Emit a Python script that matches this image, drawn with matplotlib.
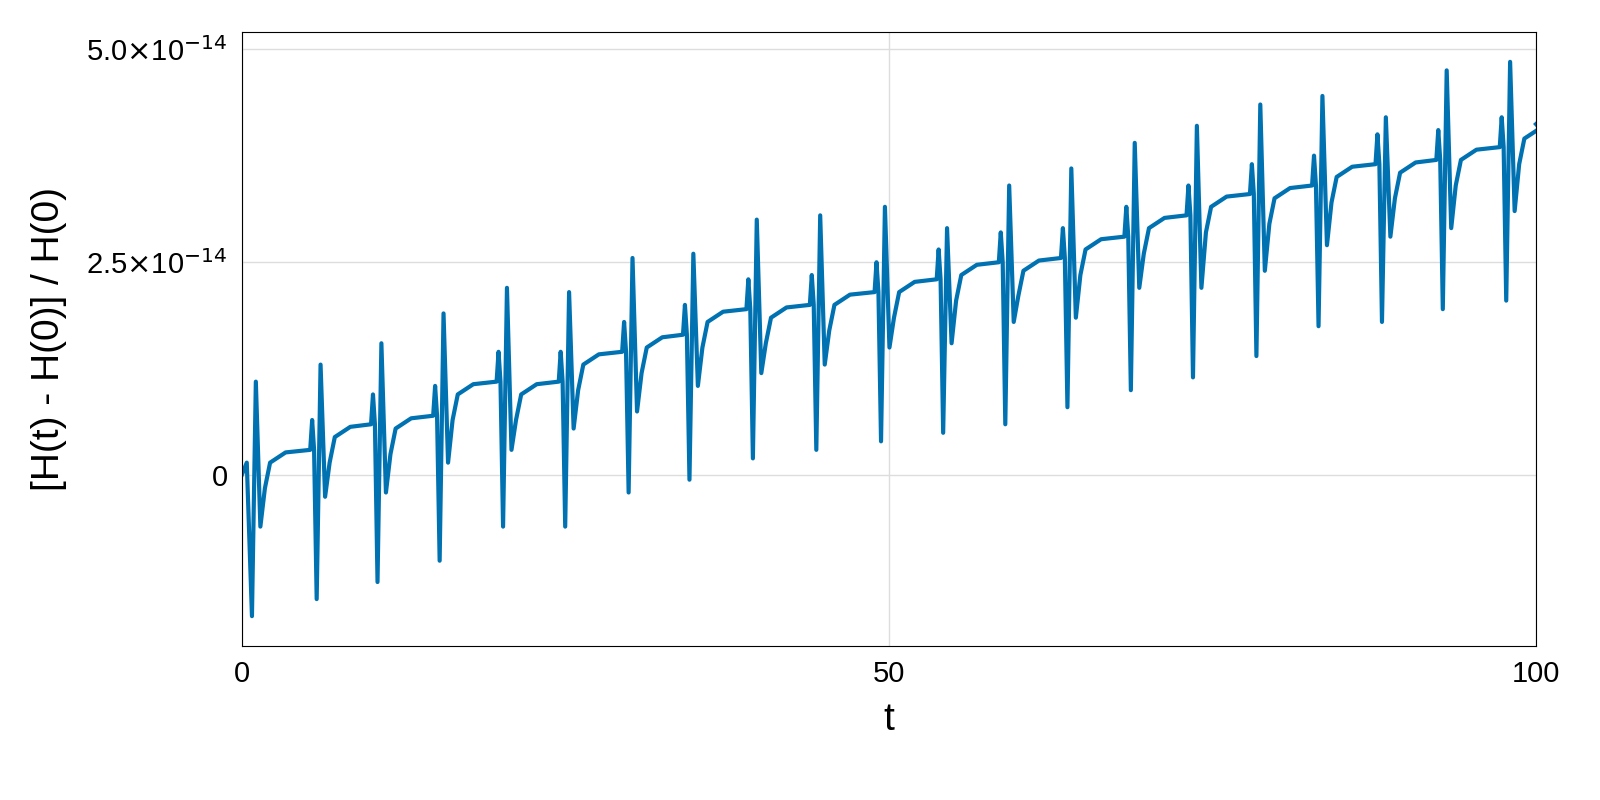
import matplotlib
matplotlib.use("Agg")
import matplotlib.pyplot as plt
import numpy as np

plt.rcParams['font.family'] = ['Liberation Sans', 'DejaVu Sans']

# spike events (values in units of 1e-14)
spike_t = [0.9, 5.9, 10.6, 15.4, 20.3, 25.1, 30.0, 34.7, 39.6, 44.5, 49.5,
           54.3, 59.1, 63.9, 68.8, 73.6, 78.5, 83.3, 88.2, 92.9, 97.8]
spike_min = [-1.65, -1.45, -1.25, -1.0, -0.6, -0.6, -0.2, -0.05, 0.2, 0.3, 0.4,
             0.5, 0.6, 0.8, 1.0, 1.15, 1.4, 1.75, 1.8, 1.95, 2.05]
spike_max = [1.1, 1.3, 1.55, 1.9, 2.2, 2.15, 2.55, 2.6, 3.0, 3.05, 3.15,
             2.9, 3.4, 3.6, 3.9, 4.1, 4.35, 4.45, 4.2, 4.75, 4.85]
spike_dip = [-0.6, -0.25, -0.2, 0.15, 0.3, 0.55, 0.75, 1.05, 1.2, 1.3, 1.5,
             1.55, 1.8, 1.85, 2.2, 2.2, 2.4, 2.7, 2.8, 2.9, 3.1]
base_after = [0.3, 0.6, 0.7, 1.1, 1.1, 1.45, 1.65, 1.95, 2.0, 2.15, 2.3,
              2.5, 2.55, 2.8, 3.05, 3.3, 3.4, 3.65, 3.7, 3.85, 4.1]

t = [0.0, 0.4]
h = [0.0, 0.15]
prev = 0.0
for i in range(len(spike_t)):
    s = spike_t[i]
    if i > 0:
        t += [s - 0.6, s - 0.45, s - 0.3]
        h += [prev, prev + 0.35, prev]
    t += [s - 0.1, s + 0.2, s + 0.55, s + 0.9, s + 1.3, s + 2.5]
    h += [spike_min[i], spike_max[i], spike_dip[i], base_after[i] - 0.45,
          base_after[i] - 0.15, base_after[i] - 0.03]
    prev = base_after[i]
t.append(100.0)
h.append(base_after[-1] + 0.02)

t = np.array(t)
h = np.array(h) * 1e-14

fig = plt.figure(figsize=(16, 8), dpi=100)
ax = fig.add_axes([0.151, 0.1925, 0.809, 0.7675])
ax.plot(t, h, color='#0072B2', lw=3)
ax.set_xlim(0, 100)
ax.set_ylim(-2.0e-14, 5.2e-14)
ax.set_xticks([0, 50, 100])
ax.set_xticklabels(['0', '50', '100'])
ax.set_yticks([0, 2.5e-14, 5.0e-14])
ax.set_yticklabels(['0', r'2.5$\times$10$^{-14}$', r'5.0$\times$10$^{-14}$'])
ax.tick_params(labelsize=21, length=0, pad=10)
ax.grid(True, color='#dddddd', lw=1)
ax.set_axisbelow(True)
ax.set_xlabel('t', fontsize=28, labelpad=10)
ax.set_ylabel('[H(t) - H(0)] / H(0)', fontsize=28, labelpad=14)
fig.savefig('out.png')
